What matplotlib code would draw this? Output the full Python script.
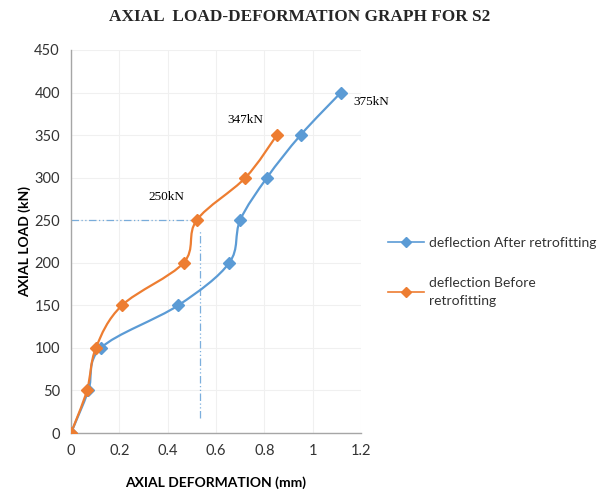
import matplotlib.pyplot as plt
import numpy as np
from matplotlib.path import Path
from matplotlib.patches import PathPatch
from matplotlib.lines import Line2D

# load values (kN)
load_after = [0, 50, 100, 150, 200, 250, 300, 350, 400]
load_before = [0, 50, 100, 150, 200, 250, 300, 350]
# axial deformation (mm)
defl_after = [0, 0.072, 0.124, 0.444, 0.655, 0.70, 0.811, 0.95, 1.117]
defl_before = [0, 0.066, 0.103, 0.211, 0.466, 0.52, 0.722, 0.852]

x_ticks = [0, 0.2, 0.4, 0.6, 0.8, 1, 1.2]
x_tick_labels = ["0", "0.2", "0.4", "0.6", "0.8", "1", "1.2"]
y_ticks = [0, 50, 100, 150, 200, 250, 300, 350, 400, 450]

BLUE = "#5B9BD5"
ORANGE = "#ED7D31"
SANS = ["Lato", "DejaVu Sans"]
SERIF = ["Liberation Serif", "DejaVu Serif"]


def smooth_path(x, y):
    """Excel-like smoothed line: cubic Bezier segments through the points."""
    pts = np.column_stack([x, y]).astype(float)
    n = len(pts)
    verts = [pts[0]]
    codes = [Path.MOVETO]
    for i in range(n - 1):
        p0 = pts[i - 1] if i > 0 else pts[i]
        p1 = pts[i]
        p2 = pts[i + 1]
        p3 = pts[i + 2] if i + 2 < n else pts[i + 1]
        c1 = p1 + (p2 - p0) / 6.0
        c2 = p2 - (p3 - p1) / 6.0
        verts += [c1, c2, p2]
        codes += [Path.CURVE4] * 3
    return Path(verts, codes)


fig = plt.figure(figsize=(6.10, 4.93), dpi=100)
ax = fig.add_axes([0.1164, 0.1217, 0.4754, 0.777])

for xs, ys, col in [(defl_after, load_after, BLUE), (defl_before, load_before, ORANGE)]:
    ax.add_patch(PathPatch(smooth_path(xs, ys), facecolor="none", edgecolor=col, lw=1.6, zorder=3))
    ax.plot(xs, ys, linestyle="none", marker="D", markersize=6.5, color=col, zorder=4)

# reference lines at 250 kN
ax.plot([0, 0.52], [250, 250], color=BLUE, lw=0.9, ls=(0, (6, 2, 1, 2, 1, 2)), alpha=0.8, zorder=2)
ax.plot([0.535, 0.535], [18, 238], color=BLUE, lw=0.9, ls=(0, (6, 2, 1, 2, 1, 2)), alpha=0.8, zorder=2)

ax.text(0.395, 277, "250kN", fontsize=9.5, family=SERIF, ha="center", va="center")
ax.text(0.72, 368, "347kN", fontsize=9.5, family=SERIF, ha="center", va="center")
ax.text(1.17, 389, "375kN", fontsize=9.5, family=SERIF, ha="left", va="center", clip_on=False)

ax.set_xlim(0, 1.2)
ax.set_ylim(0, 450)
ax.set_xticks(x_ticks)
ax.set_xticklabels(x_tick_labels)
ax.set_yticks(y_ticks)
ax.tick_params(length=0, labelsize=10.5, colors="#333333", pad=8)
for lab in ax.get_xticklabels() + ax.get_yticklabels():
    lab.set_family(SANS)
ax.grid(True, color="#F0F0F0", lw=0.8)
ax.set_axisbelow(True)
for s in ["top", "right"]:
    ax.spines[s].set_visible(False)
for s in ["left", "bottom"]:
    ax.spines[s].set_color("#A6A6A6")
    ax.spines[s].set_linewidth(1.0)

ax.set_xlabel("AXIAL DEFORMATION (mm)", fontsize=10, fontweight="bold", family=SANS, labelpad=13)
ax.set_ylabel("AXIAL LOAD (kN)", fontsize=10, fontweight="bold", family=SANS, labelpad=2)

fig.text(0.492, 0.965, "AXIAL  LOAD-DEFORMATION GRAPH FOR S2", fontsize=12.4, fontweight="bold",
         family=SERIF, ha="center", va="center", color="#262626")

handles = [
    Line2D([], [], color=BLUE, marker="D", markersize=5, lw=1.2),
    Line2D([], [], color=ORANGE, marker="D", markersize=5, lw=1.2),
]
leg = fig.legend(handles, ["deflection After retrofitting", "deflection Before\nretrofitting"],
                 loc="upper left", bbox_to_anchor=(0.615, 0.545), frameon=False,
                 prop={"family": SANS, "size": 10}, handlelength=2.6, handletextpad=0.4,
                 labelspacing=2.0, labelcolor="#333333")
for t in leg.get_texts():
    t.set_linespacing(1.6)

fig.savefig("out.png", dpi=100)
